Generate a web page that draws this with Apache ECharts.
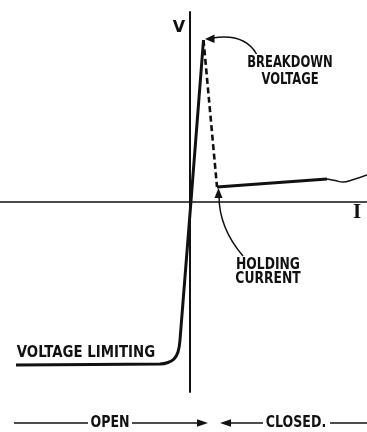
<!DOCTYPE html>
<html>
<head>
<meta charset="utf-8">
<style>
  html, body { margin: 0; padding: 0; background: #fff; }
  #chart { width: 367px; height: 432px; }
</style>
<script src="https://cdn.jsdelivr.net/npm/echarts@6/dist/echarts.min.js"></script>
</head>
<body>
<div id="chart"></div>
<script>
// V-I characteristic of a switching device (arbitrary units: I across, V up)
const offStateCurve = [        // voltage limiting knee up to breakdown
  [-17.4, -16.3], [-3.0, -16.2], [-2.2, -16.05], [-1.6, -15.7],
  [-1.2, -15.0], [-1.0, -13.8], [1.35, 16.2]
];
const snapBack = [[1.35, 16.2], [2.7, 1.5]];          // breakdown -> holding
const onStateCurve = [[2.7, 1.5], [13.7, 2.3]];       // conducting region
const onStateTail = [[13.7, 2.3], [14.5, 2.15], [15.3, 2.0], [16.2, 2.2], [17.7, 2.7]];
const breakdownPoint = [1.35, 16.2];
const holdingPoint = [2.7, 1.5];
const xRange = [-19, 17.7];
const yRange = [-19, 19];

const INK = '#111';
const LABEL_FONT = '"DejaVu Sans Condensed", "Liberation Sans Narrow", "DejaVu Sans", sans-serif';

const chart = echarts.init(document.getElementById('chart'), null, { renderer: 'canvas' });

const hidden = { show: false };
chart.setOption({
  backgroundColor: '#fff',
  animation: false,
  grid: { left: 0, right: 0, top: 12, bottom: 40 },
  xAxis: {
    type: 'value', min: xRange[0], max: xRange[1],
    axisLine: { show: true, onZero: true, lineStyle: { color: INK, width: 1.5 } },
    axisTick: hidden, axisLabel: hidden, splitLine: hidden
  },
  yAxis: {
    type: 'value', min: yRange[0], max: yRange[1],
    axisLine: { show: true, onZero: true, lineStyle: { color: INK, width: 2 } },
    axisTick: hidden, axisLabel: hidden, splitLine: hidden
  },
  series: [
    { type: 'line', data: offStateCurve, symbol: 'none', smooth: 0.25,
      lineStyle: { color: INK, width: 3 } },
    { type: 'line', data: snapBack, symbol: 'none',
      lineStyle: { color: INK, width: 2.6, type: [6, 3.5] } },
    { type: 'line', data: onStateCurve, symbol: 'none',
      lineStyle: { color: INK, width: 3 } },
    { type: 'line', data: onStateTail, symbol: 'none', smooth: true,
      lineStyle: { color: INK, width: 1.4 } }
  ]
});

// annotation arrows anchored to the breakdown and holding points
const pk = chart.convertToPixel({ gridIndex: 0 }, breakdownPoint);
const hd = chart.convertToPixel({ gridIndex: 0 }, holdingPoint);

// labels are set in a tall, narrow lettering
function text(str, x, y, opts, sx, sy) {
  return {
    type: 'text', x: x, y: y,
    scaleX: sx == null ? 0.92 : sx, scaleY: sy == null ? 1.12 : sy,
    style: Object.assign({
      text: str, fill: INK, font: 'bold 14px ' + LABEL_FONT,
      textAlign: 'center', textVerticalAlign: 'middle'
    }, opts || {})
  };
}
function tri(points) {
  return { type: 'polygon', shape: { points: points }, style: { fill: INK } };
}
function seg(x1, y1, x2, y2, w) {
  return { type: 'line', shape: { x1: x1, y1: y1, x2: x2, y2: y2 },
           style: { stroke: INK, lineWidth: w || 1.5 } };
}

const bottomY = 423;
chart.setOption({
  graphic: [
    // axis names
    text('V', 179, 28, { font: 'bold 16px "DejaVu Sans", sans-serif' }, 1, 1),
    text('I', 357, 213, { font: 'bold 21px "Liberation Serif", "DejaVu Serif", serif' }, 1, 1),

    // breakdown voltage callout
    text('BREAKDOWN', 290, 63),
    text('VOLTAGE', 290, 80),
    { type: 'bezierCurve',
      shape: { x1: pk[0] + 53, y1: pk[1] + 14, cpx1: pk[0] + 41, cpy1: pk[1] - 7,
               x2: pk[0] + 9, y2: pk[1] - 2 },
      style: { stroke: INK, lineWidth: 1.5, fill: null } },
    tri([[pk[0] + 1.5, pk[1] - 1], [pk[0] + 11, pk[1] - 5.5], [pk[0] + 11, pk[1] + 3]]),

    // holding current callout
    text('HOLDING', 268, 265, null, 0.98),
    text('CURRENT', 268, 279, null, 0.98),
    { type: 'bezierCurve',
      shape: { x1: hd[0] + 26, y1: hd[1] + 69, cpx1: hd[0] + 2, cpy1: hd[1] + 41,
               x2: hd[0] + 2, y2: hd[1] + 9 },
      style: { stroke: INK, lineWidth: 1.5, fill: null } },
    tri([[hd[0] + 1.5, hd[1] + 1], [hd[0] - 2.5, hd[1] + 11], [hd[0] + 5.5, hd[1] + 11]]),

    // voltage limiting label
    text('VOLTAGE LIMITING', 86, 353, null, 1.06),

    // switch state bar
    seg(14, bottomY, 88, bottomY),
    text('OPEN', 110, bottomY, null, 1),
    seg(132, bottomY, 200, bottomY),
    tri([[208, bottomY], [197, bottomY - 3.8], [197, bottomY + 3.8]]),
    tri([[220, bottomY], [231, bottomY - 3.8], [231, bottomY + 3.8]]),
    seg(228, bottomY, 263, bottomY),
    text('CLOSED.', 296, bottomY, null, 1),
    seg(330, bottomY, 367, bottomY)
  ]
});
</script>
</body>
</html>
